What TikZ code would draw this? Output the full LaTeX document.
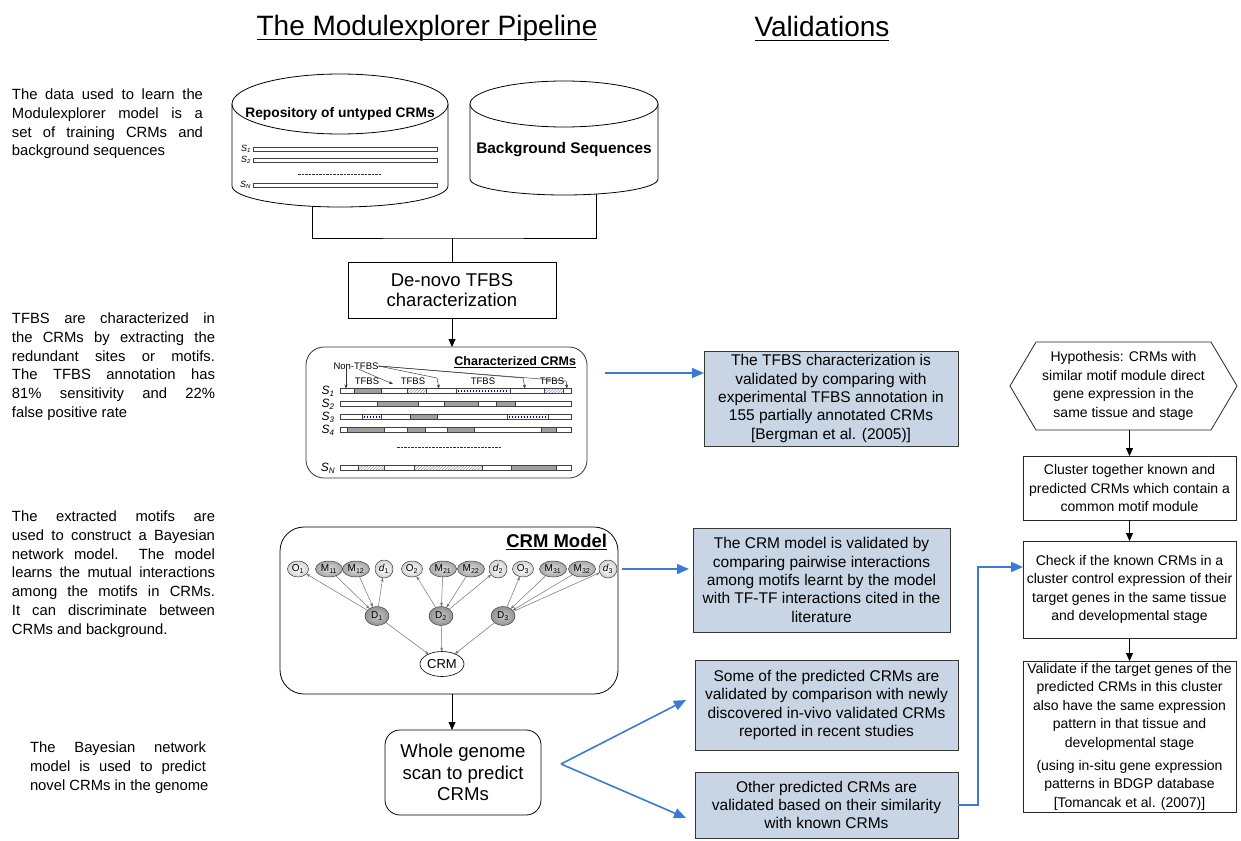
\documentclass[tikz,border=0pt]{standalone}
\usepackage{fontspec}
\setmainfont{Liberation Sans}
\usetikzlibrary{arrows.meta,shapes.geometric,patterns,calc}
\definecolor{valblue}{RGB}{199,213,229}
\definecolor{arrowblue}{RGB}{58,124,212}
\definecolor{boxline}{RGB}{55,55,55}
\newcommand\fs[2]{\fontsize{#1}{#2}\selectfont}
\newcommand\jl[2]{\makebox[#1][s]{#2}}
% sequence bars and their site segments
\newcommand\seqbar[1]{\draw[barline,fill=white] (340,#1-2.5) rectangle (571,#1+2.5);}
\newcommand\segD[3]{\draw[segdark] (#1,#3-2.5) rectangle (#2,#3+2.5);}
\newcommand\segH[3]{\draw[seghatch] (#1,#3-2.5) rectangle (#2,#3+2.5);}
\newcommand\segL[3]{\draw[seglight] (#1,#3-2.5) rectangle (#2,#3+2.5);}
\newcommand\segB[3]{\draw[barline,fill=white] (#1,#3-2.5) rectangle (#2,#3+2.5);
  \draw[draw=blue!55!black,line width=2pt,dash pattern=on 1.6pt off 1.4pt] (#1+1.5,#3) -- (#2-1.5,#3);}
\begin{document}
\begin{tikzpicture}[x=1pt,y=-1pt,
  every node/.style={inner sep=0pt,outer sep=0pt},
  line/.style={draw=black,line width=0.8pt},
  blkarrow/.style={draw=black,line width=0.8pt,-{Triangle[length=8pt,width=7pt]}},
  bluearrow/.style={draw=arrowblue,line width=1.6pt,-{Triangle[length=12pt,width=10pt]}},
  sidetext/.style={anchor=north west,align=left,font=\fs{14.8}{18.9}},
  valbox/.style={draw=boxline,fill=valblue,line width=0.8pt,align=center,font=\fs{15.5}{18.3}},
  stepbox/.style={draw=black!85,line width=0.8pt,align=center,font=\fs{14}{18.5},minimum width=213pt},
  barline/.style={draw=black!75,line width=0.5pt},
  segdark/.style={barline,fill=gray!75},
  seghatch/.style={barline,pattern=north east lines,pattern color=gray!80},
  seglight/.style={barline,pattern=north east lines,pattern color=blue!45},
  dashrule/.style={draw=black!80,line width=0.4pt,dash pattern=on 2.5pt off 1pt},
  slabel/.style={font=\fs{12}{12}\itshape},
  tiny/.style={font=\fs{9.5}{10}},
  tinyarrow/.style={draw=black!80,line width=0.45pt,-{Stealth[length=4pt,width=3pt]}},
  netarrow/.style={draw=black!55,line width=0.5pt,-{Stealth[length=4pt,width=3pt]}},
  netnode/.style={ellipse,draw=black!75,line width=0.5pt,font=\fs{10}{10}},
  onode/.style={netnode,minimum width=21pt,minimum height=16pt,inner color=white,outer color=gray!35},
  mnode/.style={netnode,minimum width=27pt,minimum height=16pt,inner color=gray!25,outer color=gray!70},
  smalld/.style={netnode,minimum width=18pt,minimum height=18pt,inner color=white,outer color=gray!35},
  bigD/.style={netnode,minimum width=24pt,minimum height=19pt,inner color=gray!45,outer color=gray!85}
]
\fill[white] (0,0) rectangle (1241,840);
\useasboundingbox (0,0) rectangle (1241,840);

% ---------- headings ----------
\node[font=\fs{28}{30},anchor=base] (ttl) at (427,36) {The Modulexplorer Pipeline};
\draw[line width=1.4pt] ($(ttl.base west)+(0,3.5)$) -- ($(ttl.base east)+(0,3.5)$);
\node[font=\fs{28}{30},anchor=base] (val) at (822,37) {Validations};
\draw[line width=1.4pt] ($(val.base west)+(0,3.5)$) -- ($(val.base east)+(0,3.5)$);

% ---------- side explanations ----------
\node[sidetext] (p1) at (12,88.5) {\jl{191pt}{The data used to learn the}\\\jl{191pt}{Modulexplorer model is a}\\\jl{191pt}{set of training CRMs and}\\background sequences};
\node[sidetext] (p2) at (12,312.5) {\jl{203pt}{TFBS are characterized in}\\\jl{203pt}{the CRMs by extracting the}\\\jl{203pt}{redundant sites or motifs.}\\\jl{203pt}{The TFBS annotation has}\\\jl{203pt}{81\% sensitivity and 22\%}\\false positive rate};
\node[sidetext] (p3) at (12,510.5) {\jl{203pt}{The extracted motifs are}\\\jl{203pt}{used to construct a Bayesian}\\\jl{203pt}{network model.\ \ The model}\\\jl{203pt}{learns the mutual interactions}\\\jl{203pt}{among the motifs in CRMs.}\\\jl{203pt}{It can discriminate between}\\CRMs and background.};
\node[sidetext] (p4) at (30,741.5) {\jl{176pt}{The Bayesian network}\\\jl{176pt}{model is used to predict}\\novel CRMs in the genome};

% ---------- data cylinders ----------
\draw[line] (232,104) -- (232,186) arc[start angle=180,end angle=0,x radius=108,y radius=21] -- (448,104);
\draw[line,fill=white] (340,104) ellipse[x radius=108,y radius=30];
\node[font=\fs{13.8}{15}\bfseries] (repo) at (340,114) {Repository of untyped CRMs};
\foreach \yy/\lab in {149/1,160/2,185/N} {
  \draw[barline,fill=white] (253,\yy-1.8) rectangle (437,\yy+1.8);
  \node[font=\fs{9}{9}\itshape,anchor=east] (rs\lab) at (251,\yy) {S\textsubscript{\lab}};
}
\draw[dashrule] (298,174) -- (382,174);
\coordinate (repoB) at (312,206.3);

\draw[line] (470,104) -- (470,179) arc[start angle=180,end angle=0,x radius=94,y radius=16] -- (658,104);
\draw[line,fill=white] (564,104) ellipse[x radius=94,y radius=23];
\node[font=\fs{15.4}{16}\bfseries] (bg) at (564,150) {Background Sequences};
\coordinate (bgB) at (596,194);

% ---------- pipeline ----------
\node[draw,line width=0.8pt,minimum width=208pt,minimum height=56pt,align=center,font=\fs{18.5}{20}] (denovo) at (452,290) {De-novo TFBS\\characterization};
\coordinate (join) at (denovo.north |- 0,238);
\draw[line] (repoB) |- (join) -| (bgB);
\draw[line] (join) -- (denovo.north);

\node[draw=black!80,line width=0.8pt,rounded corners=18pt,minimum width=281pt,minimum height=131pt] (chbox) at (446.5,412.5) {};
\draw[blkarrow] (denovo.south) -- (denovo.south |- chbox.north);
\node[font=\fs{12.5}{13}\bfseries,anchor=base east] (chttl) at (576,365.5) {Characterized CRMs};
\draw[line width=0.8pt] ($(chttl.base west)+(0,2)$) -- ($(chttl.base east)+(0,2)$);

% annotated sequences
\seqbar{391}\seqbar{404}\seqbar{417}\seqbar{430}\seqbar{468}
\segD{354}{381}{391}\segH{407}{426}{391}\segB{456}{510}{391}\segL{544}{563}{391}
\segD{377}{418}{404}\segD{444}{478}{404}\segD{496}{515}{404}
\segB{362}{381}{417}\segD{410}{437}{417}\segB{507}{548}{417}
\segD{347}{384}{430}\segD{407}{425}{430}\segD{447}{474}{430}\segD{541}{556}{430}
\segH{358}{384}{468}\segH{414}{482}{468}\segD{511}{556}{468}
\draw[dashrule] (397,447) -- (502,447);
\foreach \yy/\lab in {391/1,404/2,417/3,430/4,468/N}
  \node[slabel] (cs\lab) at (328,\yy) {S\textsubscript{\lab}};
\foreach \xx/\k in {367/1,413/2,483/3,552/4}
  \node[tiny] (tf\k) at (\xx,381) {TFBS};
\node[tiny] (non) at (356,366) {Non-TFBS};
\draw[tinyarrow] (non.south west -| 346,0) -- (346,388.5);
\draw[tinyarrow] (non.south) ++(3,0) -- (393,384);
\draw[tinyarrow] (non.east) -- (437,378) -- (439,388.5);
\draw[tinyarrow] (non.east) -- (523,378) -- (525,388.5);
\draw[tinyarrow] (non.east) -- (566,381) -- (567,388.5);

% Bayesian network model
\node[draw=black,line width=0.8pt,rounded corners=24pt,minimum width=338pt,minimum height=167pt] (crmbox) at (449,610.5) {};
\node[font=\fs{18.5}{19}\bfseries,anchor=base east] (crmttl) at (607,547) {CRM Model};
\draw[line width=1.2pt] ($(crmttl.base west)+(0,2.5)$) -- ($(crmttl.base east)+(0,2.5)$);

\node[onode] (o1) at (298,569) {O\textsubscript{1}};
\node[mnode] (m11) at (329,569) {M\textsubscript{11}};
\node[mnode] (m12) at (356,569) {M\textsubscript{12}};
\node[smalld] (d1) at (384,569) {\textit{d}\textsubscript{1}};
\node[onode] (o2) at (412,569) {O\textsubscript{2}};
\node[mnode] (m21) at (443,569) {M\textsubscript{21}};
\node[mnode] (m22) at (471,569) {M\textsubscript{22}};
\node[smalld] (d2) at (498,569) {\textit{d}\textsubscript{2}};
\node[onode] (o3) at (523,569) {O\textsubscript{3}};
\node[mnode] (m31) at (553,569) {M\textsubscript{31}};
\node[mnode] (m32) at (582,569) {M\textsubscript{32}};
\node[smalld] (d3) at (608,569) {\textit{d}\textsubscript{3}};
\node[bigD] (D1) at (377,616) {D\textsubscript{1}};
\node[bigD] (D2) at (441,616) {D\textsubscript{2}};
\node[bigD] (D3) at (503,616) {D\textsubscript{3}};
\node[ellipse,draw=black,line width=0.6pt,fill=white,minimum width=44pt,minimum height=25pt,font=\fs{13}{13}] (crm) at (442,664) {CRM};
\foreach \i in {1,2,3} {
  \draw[netarrow] (D\i) -- (o\i);
  \draw[netarrow] (D\i) -- (d\i);
  \draw[netarrow] (m\i1) -- (D\i);
  \draw[netarrow] (m\i2) -- (D\i);
  \draw[netarrow] (D\i) -- (crm);
}

\node[draw,line width=0.8pt,rounded corners=15pt,minimum width=156pt,minimum height=85pt,align=center,font=\fs{18.6}{21.5}] (wg) at (463,772.5) {Whole genome\\scan to predict\\CRMs};
\coordinate (drop) at (452,0);
\draw[blkarrow] (crmbox.south -| drop) -- (wg.north -| drop);

% ---------- validations ----------
\node[valbox,minimum width=254pt,minimum height=95pt] (b1) at (831,398.5) {The TFBS characterization is\\validated by comparing with\\experimental TFBS annotation in\\155 partially annotated CRMs\\{[Bergman et al. (2005)]}};
\node[valbox,minimum width=257pt,minimum height=104pt] (b2) at (821.5,580) {The CRM model is validated by\\comparing pairwise interactions\\among motifs learnt by the model\\with TF-TF interactions cited in the\\literature};
\node[valbox,minimum width=263pt,minimum height=90pt] (b3) at (826.5,705) {Some of the predicted CRMs are\\validated by comparison with newly\\discovered in-vivo validated CRMs\\reported in recent studies};
\node[valbox,minimum width=263pt,minimum height=66pt] (b4) at (826.5,805) {Other predicted CRMs are\\validated based on their similarity\\with known CRMs};

\coordinate (a1s) at (605,373);
\draw[bluearrow] (a1s) -- (a1s -| b1.west);
\coordinate (a2s) at (622,569);
\draw[bluearrow] (a2s) -- ($(a2s -| b2.west)+(-4,0)$);
\coordinate (apex) at (561,764);
\coordinate (e3) at (686,700);
\coordinate (e4) at (686,818);
\draw[bluearrow] (apex) -- (e3);
\draw[bluearrow] (apex) -- (e4);

% hypothesis test column
\draw[line,draw=black!85] (1010,386) -- (1036,342) -- (1211,342) -- (1237,386) -- (1211,430) -- (1036,430) -- cycle;
\node[align=center,font=\fs{14}{18.5},minimum height=88pt] (hyp) at (1123.5,386) {Hypothesis: CRMs with\\similar motif module direct\\gene expression in the\\same tissue and stage};
\node[stepbox,minimum height=64pt] (clu) at (1129.5,488) {Cluster together known and\\predicted CRMs which contain a\\common motif module};
\node[stepbox,minimum height=97pt] (chk) at (1129.5,589.5) {Check if the known CRMs in a\\cluster control expression of their\\target genes in the same tissue\\and developmental stage};
\node[stepbox,minimum height=151pt] (vld) at (1129.5,736.5) {Validate if the target genes of the\\predicted CRMs in this cluster\\also have the same expression\\pattern in that tissue and\\developmental stage\\[4.5pt](using in-situ gene expression\\patterns in BDGP database\\{[Tomancak et al. (2007)]}};
\draw[blkarrow] (hyp.south -| clu.north) -- (clu.north);
\draw[blkarrow] (clu.south) -- (chk.north);
\draw[blkarrow] (chk.south) -- (vld.north);

\coordinate (elbow) at (978,567);
\draw[bluearrow] (b4.east) -| (elbow) -- (elbow -| chk.west);
\end{tikzpicture}
\end{document}
